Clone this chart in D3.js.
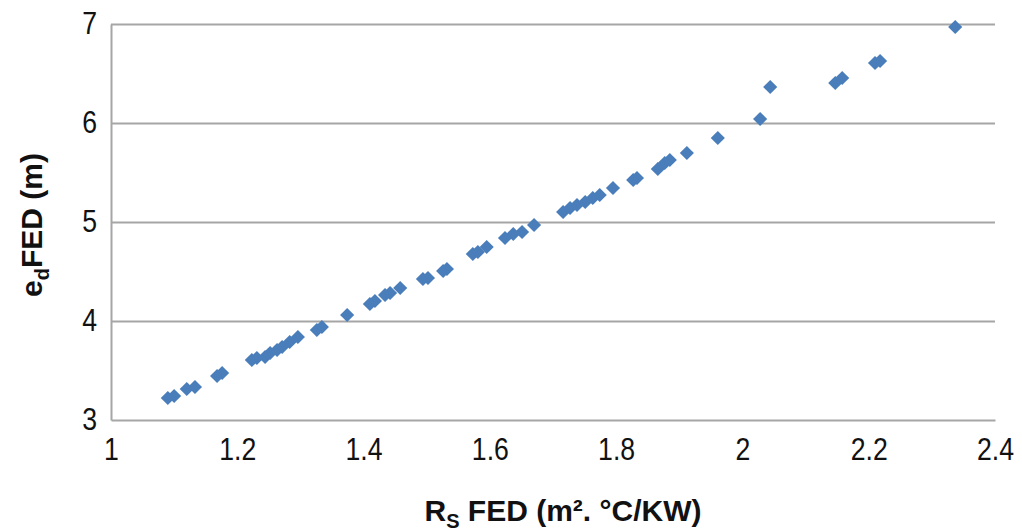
<!DOCTYPE html>
<html>
<head>
<meta charset="utf-8">
<script src="https://cdn.jsdelivr.net/npm/d3@7"></script>
<style>
  html, body { margin: 0; padding: 0; background: #fff; }
  svg { display: block; }
</style>
</head>
<body>
<svg id="chart" width="1022" height="531"></svg>
<script>
// Data
const rsFED = [1.090, 1.100, 1.120, 1.133, 1.168, 1.176, 1.223, 1.231, 1.244, 1.252,
  1.263, 1.271, 1.283, 1.296, 1.326, 1.334, 1.374, 1.410, 1.418, 1.434,
  1.442, 1.458, 1.494, 1.502, 1.526, 1.532, 1.573, 1.581, 1.595, 1.624,
  1.637, 1.651, 1.670, 1.716, 1.727, 1.738, 1.751, 1.763, 1.774, 1.795,
  1.827, 1.833, 1.866, 1.877, 1.885, 1.912, 1.961, 2.028, 2.044, 2.147,
  2.158, 2.210, 2.218, 2.337];
const edFED = [3.222, 3.242, 3.313, 3.333, 3.444, 3.475, 3.606, 3.626, 3.636, 3.677,
  3.707, 3.737, 3.788, 3.838, 3.909, 3.939, 4.061, 4.172, 4.202, 4.263,
  4.283, 4.333, 4.424, 4.434, 4.505, 4.525, 4.677, 4.697, 4.747, 4.838,
  4.879, 4.899, 4.970, 5.101, 5.141, 5.172, 5.202, 5.242, 5.273, 5.343,
  5.424, 5.444, 5.535, 5.596, 5.626, 5.697, 5.848, 6.040, 6.364, 6.404,
  6.455, 6.606, 6.626, 6.970];
const xTicks = [1, 1.2, 1.4, 1.6, 1.8, 2, 2.2, 2.4];
const yTicks = [3, 4, 5, 6, 7];
const xTitle = ["R", "S", " FED (m². °C/KW)"];
const yTitle = ["e", "d", "FED (m)"];

const svg = d3.select("#chart");
const margin = { left: 111, right: 27, top: 24, bottom: 111 };
const W = 1022, H = 531;
const x = d3.scaleLinear().domain([1, 2.4]).range([margin.left, W - margin.right]);
const y = d3.scaleLinear().domain([3, 7]).range([H - margin.bottom, margin.top]);

const gridColor = "#a6a6a6";
const font = "'Liberation Sans', Arial, sans-serif";
const sx = 0.86;

// horizontal gridlines
svg.append("g")
  .attr("transform", `translate(${margin.left},0)`)
  .call(d3.axisLeft(y).tickValues(yTicks.filter(d => d > 3)).tickSize(-(W - margin.right - margin.left)).tickFormat(""))
  .call(g => g.select(".domain").remove())
  .call(g => g.selectAll("line").attr("stroke", gridColor).attr("stroke-width", 2));

// Y axis
const yAxis = svg.append("g")
  .attr("transform", `translate(${margin.left},0)`)
  .call(d3.axisLeft(y).tickValues(yTicks).tickSize(0).tickPadding(14).tickFormat(d3.format("d")));
yAxis.select(".domain").attr("stroke", gridColor).attr("stroke-width", 2);
yAxis.selectAll("text")
  .attr("font-family", font)
  .attr("font-size", 31).attr("fill", "#111")
  .attr("x", -14 / sx)
  .attr("dy", "0.3em")
  .attr("transform", `scale(${sx},1)`);

// X axis
const xAxis = svg.append("g")
  .attr("transform", `translate(0,${H - margin.bottom})`)
  .call(d3.axisBottom(x).tickValues(xTicks).tickSize(0).tickPadding(18).tickFormat(d => d3.format("")(d)));
xAxis.select(".domain").attr("stroke", gridColor).attr("stroke-width", 2);
xAxis.selectAll("text")
  .attr("font-family", font)
  .attr("font-size", 31).attr("fill", "#111")
  .attr("transform", `scale(${sx},1)`);

// Points (diamonds)
svg.append("g")
  .selectAll("path")
  .data(rsFED.map((v, i) => [v, edFED[i]]))
  .join("path")
  .attr("transform", d => `translate(${x(d[0])},${y(d[1])}) rotate(45)`)
  .attr("d", d3.symbol().type(d3.symbolSquare).size(100))
  .attr("fill", "#4a7ebb");

// X title
const xt = svg.append("text")
  .attr("x", 563)
  .attr("y", 521)
  .attr("text-anchor", "middle")
  .attr("font-family", font)
  .attr("font-weight", "bold")
  .attr("font-size", 30)
  .attr("fill", "#111");
xt.append("tspan").text(xTitle[0]);
xt.append("tspan").attr("font-size", 20).attr("dy", 7).text(xTitle[1]);
xt.append("tspan").attr("dy", -7).text(xTitle[2]);

// Y title
const yt = svg.append("text")
  .attr("transform", `translate(42,${(margin.top + H - margin.bottom) / 2 + 3}) rotate(-90)`)
  .attr("text-anchor", "middle")
  .attr("font-family", font)
  .attr("font-weight", "bold")
  .attr("font-size", 30)
  .attr("fill", "#111");
yt.append("tspan").text(yTitle[0]);
yt.append("tspan").attr("font-size", 20).attr("dy", 7).text(yTitle[1]);
yt.append("tspan").attr("dy", -7).text(yTitle[2]);
</script>
</body>
</html>
